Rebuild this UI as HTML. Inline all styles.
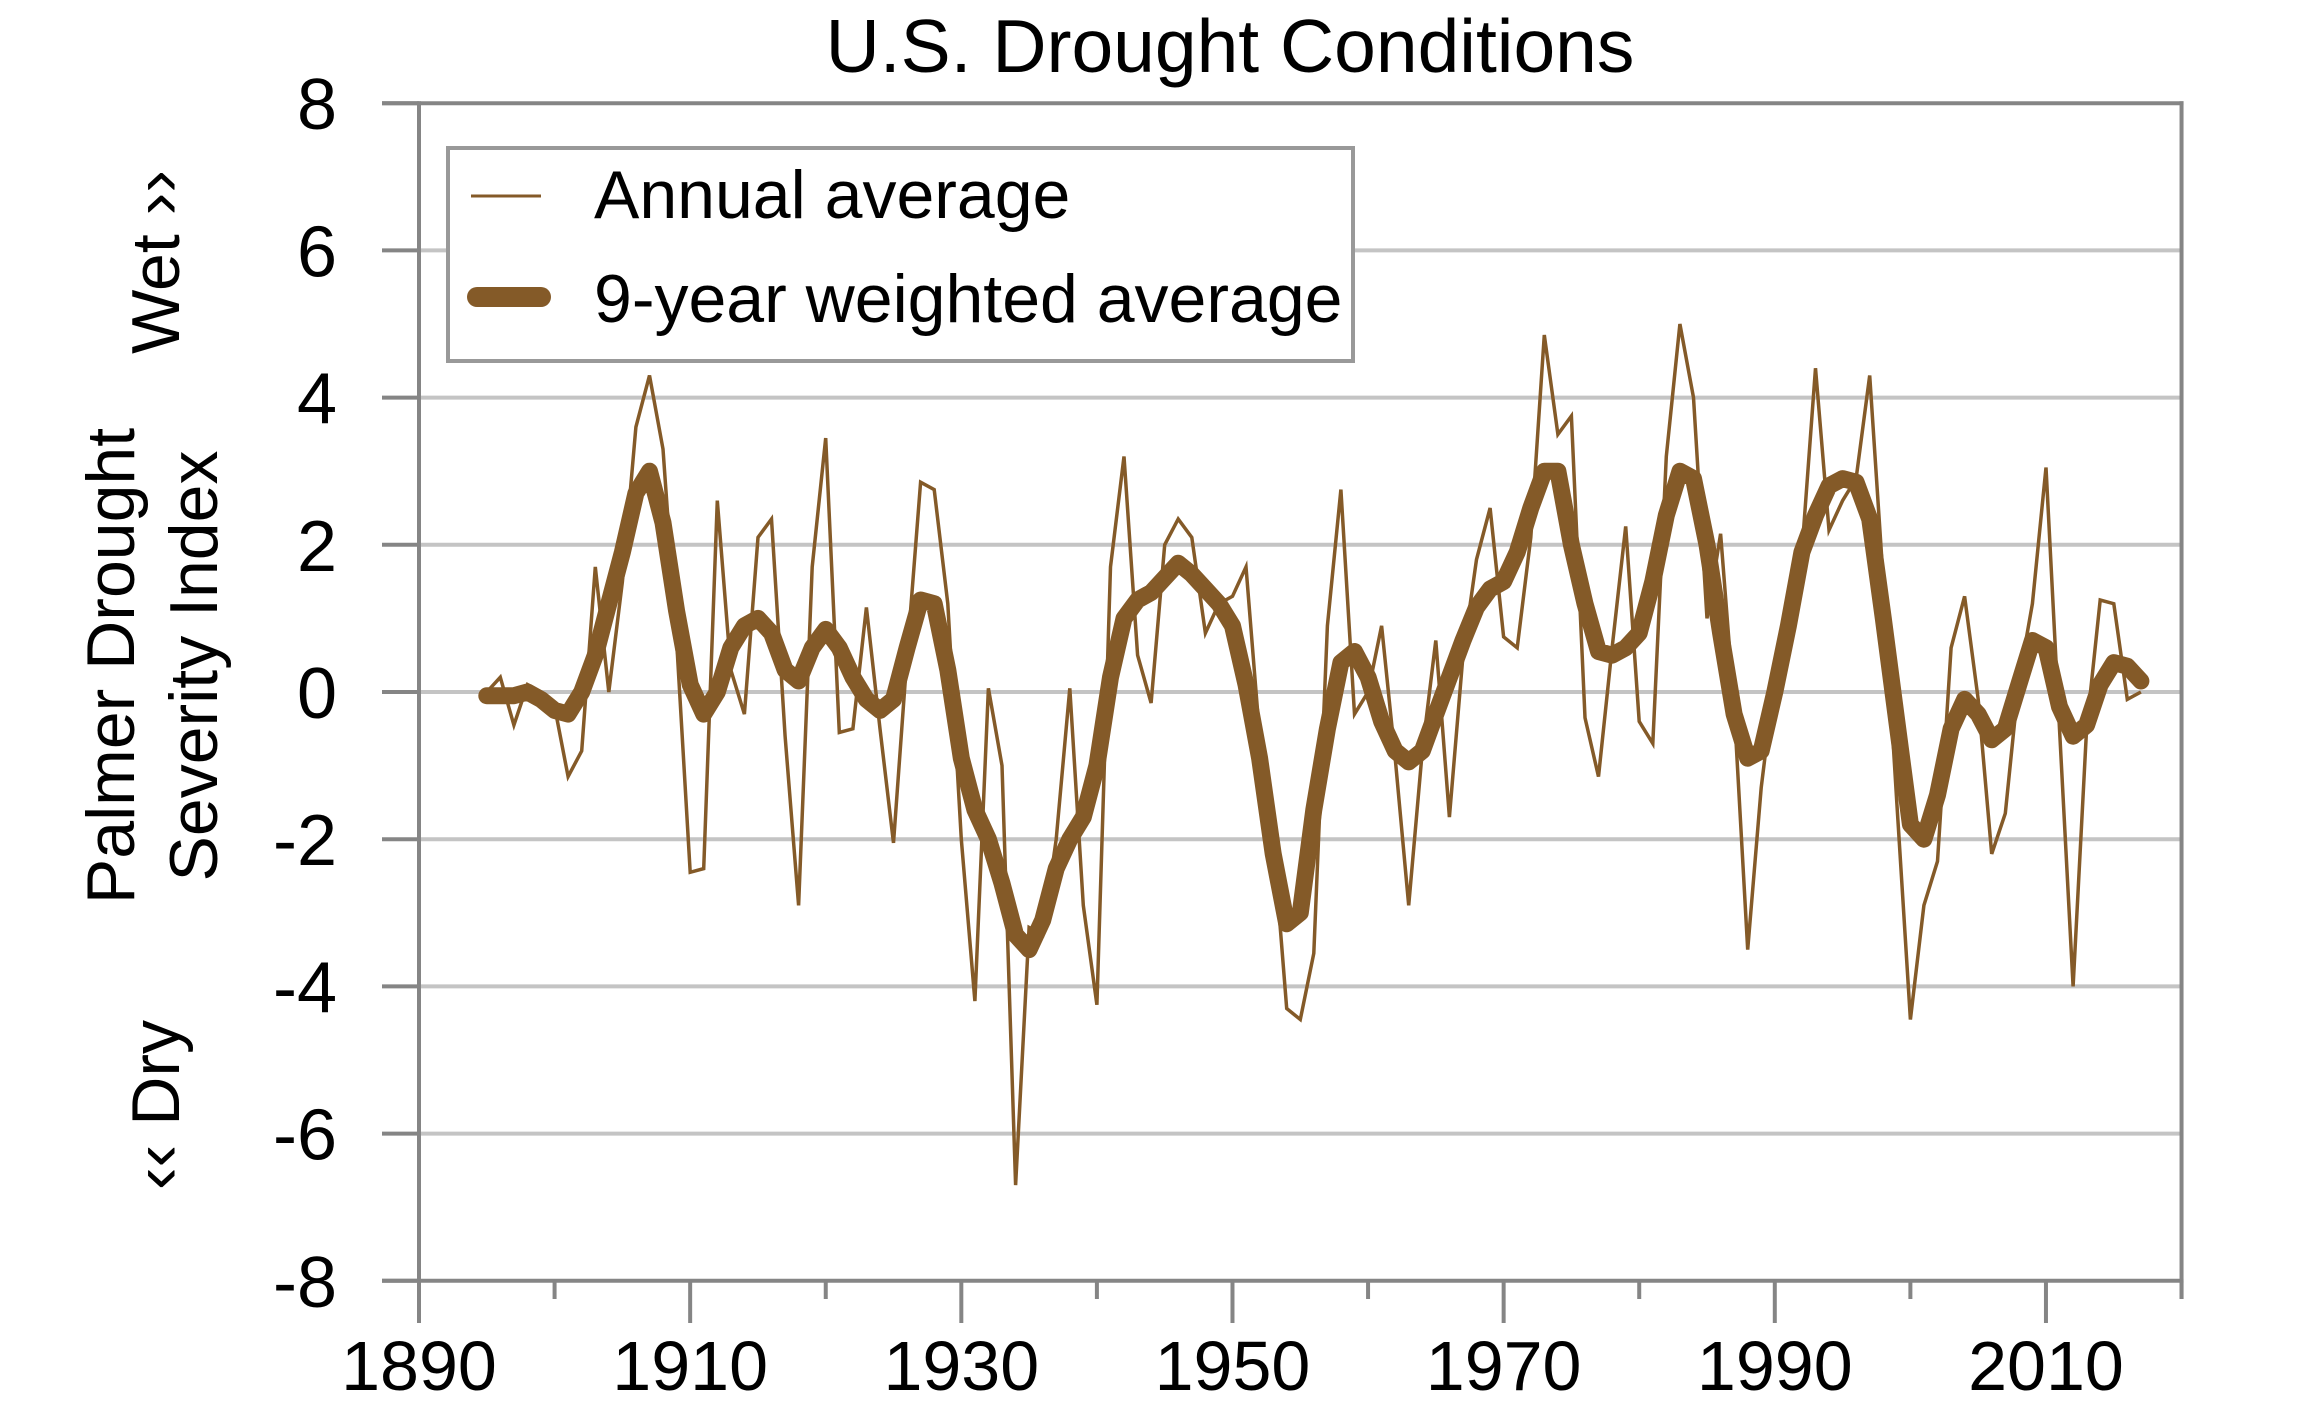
<!DOCTYPE html>
<html><head><meta charset="utf-8"><style>
html,body{margin:0;padding:0;background:#fff;}
svg{display:block;font-family:"Liberation Sans",Arial,sans-serif;}
</style></head><body>
<svg id="chart" width="2320" height="1402" viewBox="0 0 2320 1402">
<text x="1230" y="72" font-size="75" text-anchor="middle">U.S. Drought Conditions</text>
<g id="grid"></g>
<g id="axes"></g>
<g id="series"></g>
<g font-size="68">
<text transform="translate(111,666) rotate(-90)" text-anchor="middle" dominant-baseline="central">Palmer Drought</text>
<text transform="translate(194,666) rotate(-90)" text-anchor="middle" dominant-baseline="central">Severity Index</text>
<text transform="translate(156,262) rotate(-90)" text-anchor="middle" dominant-baseline="central">Wet ››</text>
<text transform="translate(156,1105) rotate(-90)" text-anchor="middle" dominant-baseline="central">‹‹ Dry</text>
</g>
<g>
<rect x="448" y="148" width="905" height="213" fill="#fff" stroke="#999" stroke-width="4"/>
<line x1="471" y1="196" x2="541" y2="196" stroke="#845A28" stroke-width="3"/>
<text x="594" y="218" font-size="68">Annual average</text>
<line x1="477" y1="297" x2="541" y2="297" stroke="#845A28" stroke-width="20" stroke-linecap="round"/>
<text x="594" y="322" font-size="68">9-year weighted average</text>
</g>
</svg>
<script>
const years = [];
for (let y = 1895; y <= 2017; y++) years.push(y);
const annualValues = [0.0,0.2,-0.45,0.1,0.0,-0.2,-1.15,-0.8,1.7,0.0,1.5,3.6,4.3,3.3,0.7,-2.45,-2.4,2.6,0.3,-0.3,2.1,2.35,-0.6,-2.9,1.7,3.45,-0.55,-0.5,1.15,-0.5,-2.05,0.5,2.85,2.75,1.2,-2.0,-4.2,0.05,-1.0,-6.7,-3.2,-3.3,-2.0,0.05,-2.9,-4.25,1.7,3.2,0.5,-0.15,2.0,2.35,2.1,0.8,1.2,1.3,1.7,-0.6,-2.0,-4.3,-4.45,-3.55,0.9,2.75,-0.3,0.0,0.9,-0.9,-2.9,-0.8,0.7,-1.7,0.5,1.8,2.5,0.75,0.6,2.1,4.85,3.5,3.75,-0.35,-1.15,0.6,2.25,-0.4,-0.7,3.2,5.0,4.0,1.0,2.15,-0.2,-3.5,-1.3,0.2,1.2,1.9,4.4,2.2,2.6,2.9,4.3,1.5,-1.5,-4.45,-2.9,-2.3,0.6,1.3,-0.1,-2.2,-1.65,0.15,1.2,3.05,-0.5,-4.0,-0.5,1.25,1.2,-0.1,0.0];
const smoothValues = [-0.05,-0.05,-0.05,0.0,-0.1,-0.25,-0.3,0.0,0.5,1.2,1.9,2.7,3.0,2.3,1.1,0.1,-0.3,0.0,0.6,0.9,1.0,0.8,0.3,0.15,0.6,0.85,0.6,0.2,-0.1,-0.25,-0.1,0.6,1.25,1.2,0.3,-0.9,-1.6,-2.0,-2.6,-3.3,-3.5,-3.1,-2.4,-2.0,-1.7,-1.0,0.2,1.0,1.25,1.35,1.55,1.75,1.6,1.4,1.2,0.9,0.1,-0.9,-2.2,-3.15,-3.0,-1.6,-0.5,0.4,0.55,0.2,-0.4,-0.8,-0.95,-0.8,-0.3,0.2,0.7,1.15,1.4,1.5,1.9,2.5,3.0,3.0,2.0,1.2,0.55,0.5,0.6,0.8,1.5,2.4,3.0,2.9,2.0,0.8,-0.3,-0.9,-0.8,0.0,0.9,1.9,2.4,2.8,2.9,2.85,2.35,1.0,-0.4,-1.8,-2.0,-1.4,-0.5,-0.1,-0.3,-0.65,-0.5,0.1,0.7,0.6,-0.2,-0.6,-0.45,0.1,0.4,0.35,0.15];
const yTicks = [8,6,4,2,0,-2,-4,-6,-8];
const xTickYears = [1890,1900,1910,1920,1930,1940,1950,1960,1970,1980,1990,2000,2010,2020];
const xLabels = ["1890","1910","1930","1950","1970","1990","2010"];

const NS = "http://www.w3.org/2000/svg";
const X0 = 419, PX_PER_YEAR = 13.558, Y_ZERO = 692, PX_PER_UNIT = 73.6;
const xScale = yr => X0 + (yr - 1890) * PX_PER_YEAR;
const yScale = v => Y_ZERO - v * PX_PER_UNIT;
function mk(tag, attrs, parent) {
  const e = document.createElementNS(NS, tag);
  for (const k in attrs) e.setAttribute(k, attrs[k]);
  parent.appendChild(e);
  return e;
}
const gridG = document.getElementById('grid');
const axesG = document.getElementById('axes');
const seriesG = document.getElementById('series');
const leftX = xScale(1890), rightX = xScale(2020);

yTicks.forEach(v => {
  const y = yScale(v);
  if (v !== 8 && v !== -8) {
    const g = mk('line', {x1: leftX, x2: rightX, y1: y, y2: y, stroke: '#c4c4c4', 'stroke-width': 4}, gridG);
    
    
  }
  const t = mk('line', {x1: 382, x2: leftX, y1: y, y2: y, stroke: '#858585', 'stroke-width': 4}, axesG);
  
  
  const lb = mk('text', {x: 337, y: y + 26, 'font-size': 72, 'text-anchor': 'end'}, axesG);
  lb.textContent = String(v);
  
  
});
const topBorder = mk('line', {x1: 382, x2: rightX + 2, y1: yScale(8), y2: yScale(8), stroke: '#858585', 'stroke-width': 4}, axesG);


const bottomAxis = mk('line', {x1: 382, x2: rightX + 2, y1: yScale(-8), y2: yScale(-8), stroke: '#858585', 'stroke-width': 4}, axesG);


const yAxisLine = mk('line', {x1: leftX, x2: leftX, y1: yScale(8) - 2, y2: 1323, stroke: '#858585', 'stroke-width': 4}, axesG);


const rightBorder = mk('line', {x1: rightX, x2: rightX, y1: yScale(8) - 2, y2: 1299, stroke: '#858585', 'stroke-width': 4}, axesG);


xTickYears.forEach(yr => {
  const major = (yr - 1890) % 20 === 0;
  const x = xScale(yr);
  const t = mk('line', {x1: x, x2: x, y1: yScale(-8), y2: major ? 1323 : 1299, stroke: '#858585', 'stroke-width': 4}, axesG);
  
  
});
xLabels.forEach(s => {
  const lb = mk('text', {x: xScale(+s), y: 1390, 'font-size': 70, 'text-anchor': 'middle'}, axesG);
  lb.textContent = s;
  
  
});

function pts(vals) { return vals.map((v, i) => xScale(years[i]).toFixed(1) + ',' + yScale(v).toFixed(1)).join(' '); }
const annualLine = mk('polyline', {points: pts(annualValues), fill: 'none', stroke: '#845A28', 'stroke-width': 3.5, 'stroke-linejoin': 'miter'}, seriesG);


const smoothLine = mk('polyline', {points: pts(smoothValues), fill: 'none', stroke: '#845A28', 'stroke-width': 17, 'stroke-linejoin': 'round', 'stroke-linecap': 'round'}, seriesG);


</script>
</body></html>
